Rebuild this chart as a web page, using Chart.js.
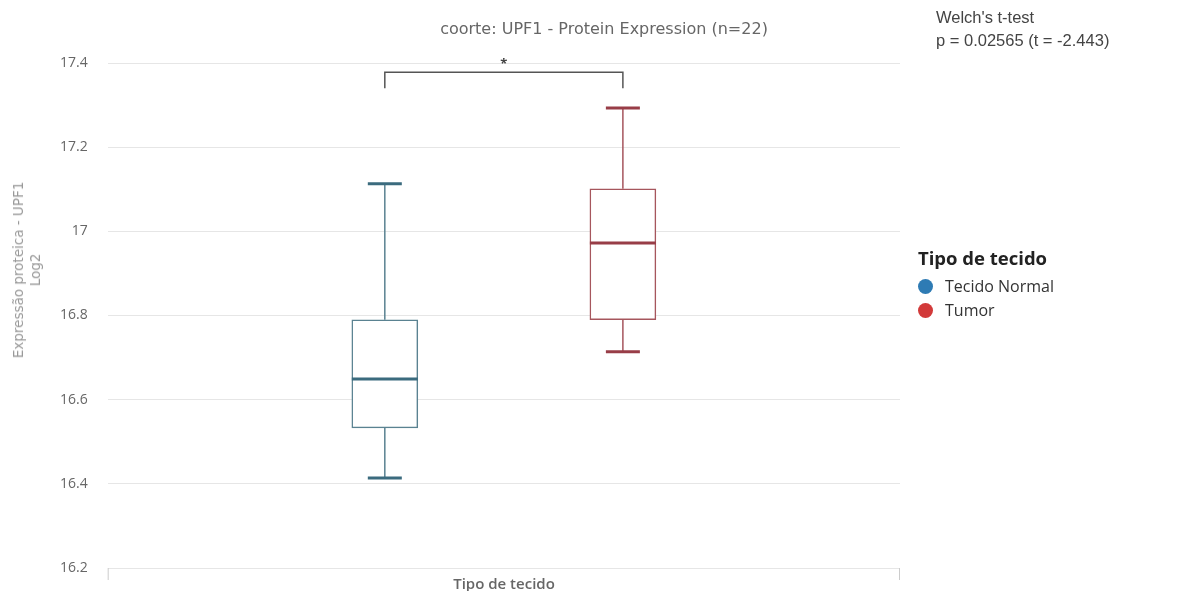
<!DOCTYPE html>
<html>
<head>
<meta charset="utf-8">
<script src="https://cdn.jsdelivr.net/npm/chart.js@4/dist/chart.umd.min.js"></script>
<style>
  html, body { margin: 0; padding: 0; background: #fff; }
  #wrap { position: relative; width: 1192px; height: 591px; overflow: hidden; }
  #chart { position: absolute; left: 0; top: 0; }
  .txt { position: absolute; white-space: nowrap; }
  #title { left: 604px; top: 28px; transform: translate(-50%, -50%); font: 16px "DejaVu Sans", sans-serif; color: #666; }
  #welch { left: 936px; top: 6px; font: 16.5px "Liberation Sans", Arial, sans-serif; color: #444; line-height: 23px; }
  #ytitle { left: 27px; top: 270px; transform: translate(-50%, -50%) rotate(-90deg); font: 13.5px "DejaVu Sans", sans-serif; color: #999; text-align: center; line-height: 17px; }
  #xtitle { left: 504px; top: 583px; transform: translate(-50%, -50%); font: 600 15px "Open Sans", sans-serif; color: #666; }
  #legend { left: 918px; top: 245px; font-family: "Open Sans", sans-serif; color: #333; }
  #legend .head { font-size: 18.5px; font-weight: 700; color: #222; line-height: 26px; margin-bottom: 3px; }
  #legend .item { font-size: 16px; line-height: 24px; }
  #legend .dot { display: inline-block; width: 15px; height: 15px; border-radius: 50%; vertical-align: -2px; margin-right: 12px; }
</style>
</head>
<body>
<div id="wrap">
  <canvas id="chart" width="1192" height="591"></canvas>
  <div id="title" class="txt">coorte: UPF1 - Protein Expression (n=22)</div>
  <div id="welch" class="txt">Welch's t-test<br>p = 0.02565 (t = -2.443)</div>
  <div id="ytitle" class="txt">Expressão proteica - UPF1<br>Log2</div>
  <div id="xtitle" class="txt">Tipo de tecido</div>
  <div id="legend" class="txt"></div>
</div>
<script>
// valores
const categories = ['Tecido Normal', 'Tumor'];
const whiskerLow = [16.414, 16.714];
const q1 = [16.533, 16.790];
const medians = [16.649, 16.972];
const q3 = [16.790, 17.101];
const whiskerHigh = [17.113, 17.293];

const legendColors = ['#2e7bb4', '#d23a3a'];
const boxColors = ['#5a8291', '#a6565d'];
const medianColors = ['#3b6b7e', '#983d47'];

const yMin = 16.2;
const yMax = 17.4;
const yStep = 0.2;

const bracket = { from: 0, to: 1, top: 17.378, bottom: 17.34, label: '*' };

// legenda em HTML
const legendEl = document.getElementById('legend');
let html = '<div class="head">Tipo de tecido</div>';
categories.forEach((c, i) => {
  html += '<div class="item"><span class="dot" style="background:' + legendColors[i] + '"></span>' + c + '</div>';
});
legendEl.innerHTML = html;

// bigodes, medianas e colchete de significância
const boxExtras = {
  id: 'boxExtras',
  afterDatasetsDraw(chart) {
    const ctx = chart.ctx;
    const x = chart.scales.x;
    const y = chart.scales.y;
    const area = chart.chartArea;
    ctx.save();
    categories.forEach((c, i) => {
      const cx = x.getPixelForValue(i);
      const boxHalf = 33;
      const capHalf = 17;
      ctx.strokeStyle = boxColors[i];
      ctx.lineWidth = 1.5;
      ctx.beginPath();
      ctx.moveTo(cx, y.getPixelForValue(q3[i]));
      ctx.lineTo(cx, y.getPixelForValue(whiskerHigh[i]));
      ctx.moveTo(cx, y.getPixelForValue(q1[i]));
      ctx.lineTo(cx, y.getPixelForValue(whiskerLow[i]));
      ctx.stroke();

      ctx.strokeStyle = medianColors[i];
      ctx.lineWidth = 3;
      ctx.beginPath();
      ctx.moveTo(cx - capHalf, y.getPixelForValue(whiskerHigh[i]));
      ctx.lineTo(cx + capHalf, y.getPixelForValue(whiskerHigh[i]));
      ctx.moveTo(cx - capHalf, y.getPixelForValue(whiskerLow[i]));
      ctx.lineTo(cx + capHalf, y.getPixelForValue(whiskerLow[i]));
      ctx.moveTo(cx - boxHalf, y.getPixelForValue(medians[i]));
      ctx.lineTo(cx + boxHalf, y.getPixelForValue(medians[i]));
      ctx.stroke();
    });

    // colchete
    const bx1 = x.getPixelForValue(bracket.from);
    const bx2 = x.getPixelForValue(bracket.to);
    const byTop = y.getPixelForValue(bracket.top);
    const byBot = y.getPixelForValue(bracket.bottom);
    ctx.strokeStyle = '#555';
    ctx.lineWidth = 1.5;
    ctx.beginPath();
    ctx.moveTo(bx1, byBot);
    ctx.lineTo(bx1, byTop);
    ctx.lineTo(bx2, byTop);
    ctx.lineTo(bx2, byBot);
    ctx.stroke();
    ctx.fillStyle = '#444';
    ctx.font = 'bold 13px "Open Sans", sans-serif';
    ctx.textAlign = 'center';
    ctx.textBaseline = 'middle';
    ctx.fillText(bracket.label, (bx1 + bx2) / 2, byTop - 8);

    // marcas nas pontas do eixo x
    ctx.strokeStyle = '#ccc';
    ctx.lineWidth = 1;
    ctx.beginPath();
    ctx.moveTo(area.left + 0.5, area.bottom);
    ctx.lineTo(area.left + 0.5, area.bottom + 12);
    ctx.moveTo(area.right - 0.5, area.bottom);
    ctx.lineTo(area.right - 0.5, area.bottom + 12);
    ctx.stroke();
    ctx.restore();
  }
};

const chart = new Chart(document.getElementById('chart'), {
  type: 'bar',
  data: {
    datasets: [{
      label: 'caixas',
      data: categories.map((c, i) => ({ x: i, y: [q1[i], q3[i]] })),
      backgroundColor: '#ffffff',
      borderColor: boxColors,
      borderWidth: 1.5,
      borderSkipped: false,
      barThickness: 66
    }]
  },
  options: {
    responsive: false,
    animation: false,
    layout: { padding: { left: 60, right: 292, top: 63, bottom: 23 } },
    plugins: {
      legend: { display: false },
      tooltip: { enabled: false },
      title: { display: false }
    },
    scales: {
      x: {
        type: 'linear',
        display: false,
        offset: false,
        min: -1.164,
        max: 2.164
      },
      y: {
        min: yMin,
        max: yMax,
        ticks: {
          stepSize: yStep,
          color: '#666',
          padding: 0,
          font: { family: 'Open Sans', size: 14 },
          callback: v => String(Number(v.toFixed(1)))
        },
        grid: { color: '#e6e6e6', drawTicks: true, tickLength: 20, tickColor: 'rgba(0,0,0,0)' },
        border: { display: false }
      }
    }
  },
  plugins: [boxExtras]
});
</script>
</body>
</html>
